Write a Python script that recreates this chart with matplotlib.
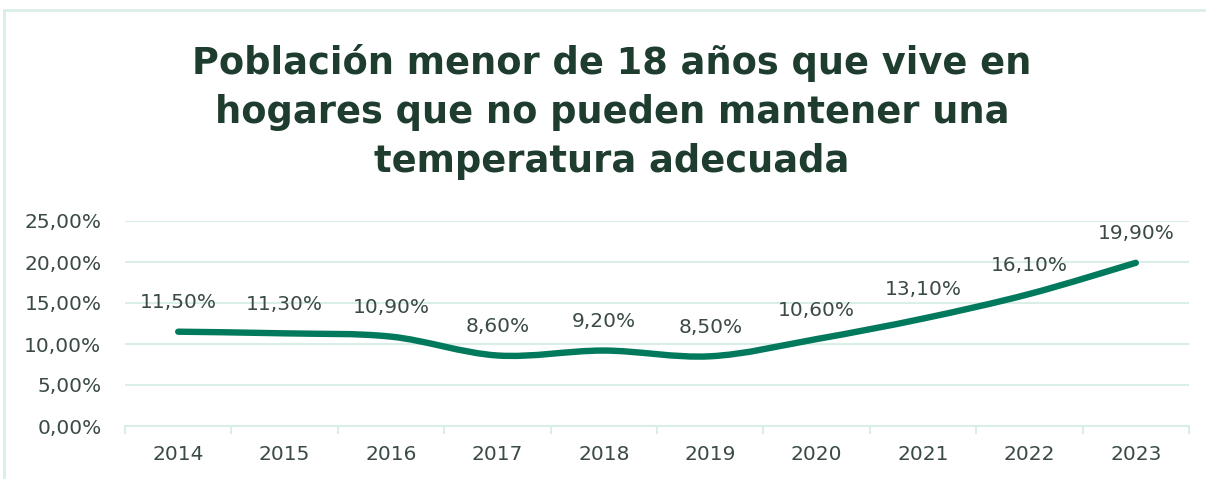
import numpy as np
import matplotlib
matplotlib.use("Agg")
import matplotlib.pyplot as plt
from matplotlib.path import Path
from matplotlib.patches import PathPatch, Rectangle

years = ["2014", "2015", "2016", "2017", "2018", "2019", "2020", "2021", "2022", "2023"]
values = [11.5, 11.3, 10.9, 8.6, 9.2, 8.5, 10.6, 13.1, 16.1, 19.9]
labels = ["11,50%", "11,30%", "10,90%", "8,60%", "9,20%", "8,50%", "10,60%", "13,10%", "16,10%", "19,90%"]
yticks = [0, 5, 10, 15, 20, 25]
ytick_labels = ["0,00%", "5,00%", "10,00%", "15,00%", "20,00%", "25,00%"]
title = "Población menor de 18 años que vive en\nhogares que no pueden mantener una\ntemperatura adecuada"

W, H = 1206, 479
fig = plt.figure(figsize=(W / 100, H / 100), dpi=100)
ax = fig.add_axes([125 / W, 1 - 426 / H, (1189 - 125) / W, (426 - 221) / H])

line_color = "#00795C"
grid_color = "#D8EEE7"
text_color = "#3B4A44"
title_color = "#1E3D2F"

x = np.arange(len(years))
y = np.array(values)

# smoothed line (Catmull-Rom as cubic Bezier segments)
verts = [(x[0], y[0])]
codes = [Path.MOVETO]
n = len(x)
t = 1 / 6
for i in range(n - 1):
    p0 = np.array([x[max(i - 1, 0)], y[max(i - 1, 0)]])
    p1 = np.array([x[i], y[i]])
    p2 = np.array([x[i + 1], y[i + 1]])
    p3 = np.array([x[min(i + 2, n - 1)], y[min(i + 2, n - 1)]])
    c1 = p1 + (p2 - p0) * t
    c2 = p2 - (p3 - p1) * t
    verts += [tuple(c1), tuple(c2), tuple(p2)]
    codes += [Path.CURVE4] * 3
ax.add_patch(PathPatch(Path(verts, codes), facecolor="none", edgecolor=line_color,
                       lw=4.6, capstyle="round", joinstyle="round", zorder=3))

for xi, yi, lab in zip(x, y, labels):
    ax.annotate(lab, (xi, yi), xytext=(0, 14), textcoords="offset points",
                ha="center", va="bottom", fontsize=14.5, color=text_color, zorder=4)

ax.set_xlim(-0.5, n - 0.5)
ax.set_ylim(0, 25)
ax.set_yticks(yticks)
ax.set_yticklabels(ytick_labels, fontsize=14.5, color=text_color)
ax.set_xticks(x)
ax.set_xticklabels(years, fontsize=14.5, color=text_color)
ax.set_xticks(np.arange(-0.5, n, 1), minor=True)
ax.tick_params(axis="y", length=0, pad=17)
ax.tick_params(axis="x", which="major", length=0, pad=14)
ax.tick_params(axis="x", which="minor", length=6, color=grid_color, width=1.5, direction="out")
for s in ["top", "right", "left"]:
    ax.spines[s].set_visible(False)
ax.spines["bottom"].set_color(grid_color)
ax.spines["bottom"].set_linewidth(1.5)
ax.grid(axis="y", color=grid_color, lw=1.5)
ax.set_axisbelow(True)

fig.text(612 / W, 1 - 112 / H, title, ha="center", va="center", fontsize=26.5,
         fontweight="bold", color=title_color, linespacing=1.4)

# chart border
fig.add_artist(Rectangle((4 / W, -0.1), 1.1, 1 - 10 / H + 0.1, transform=fig.transFigure,
                         fill=False, edgecolor="#D8EEE7", lw=2))

fig.savefig("out.png", dpi=100, facecolor="white")
